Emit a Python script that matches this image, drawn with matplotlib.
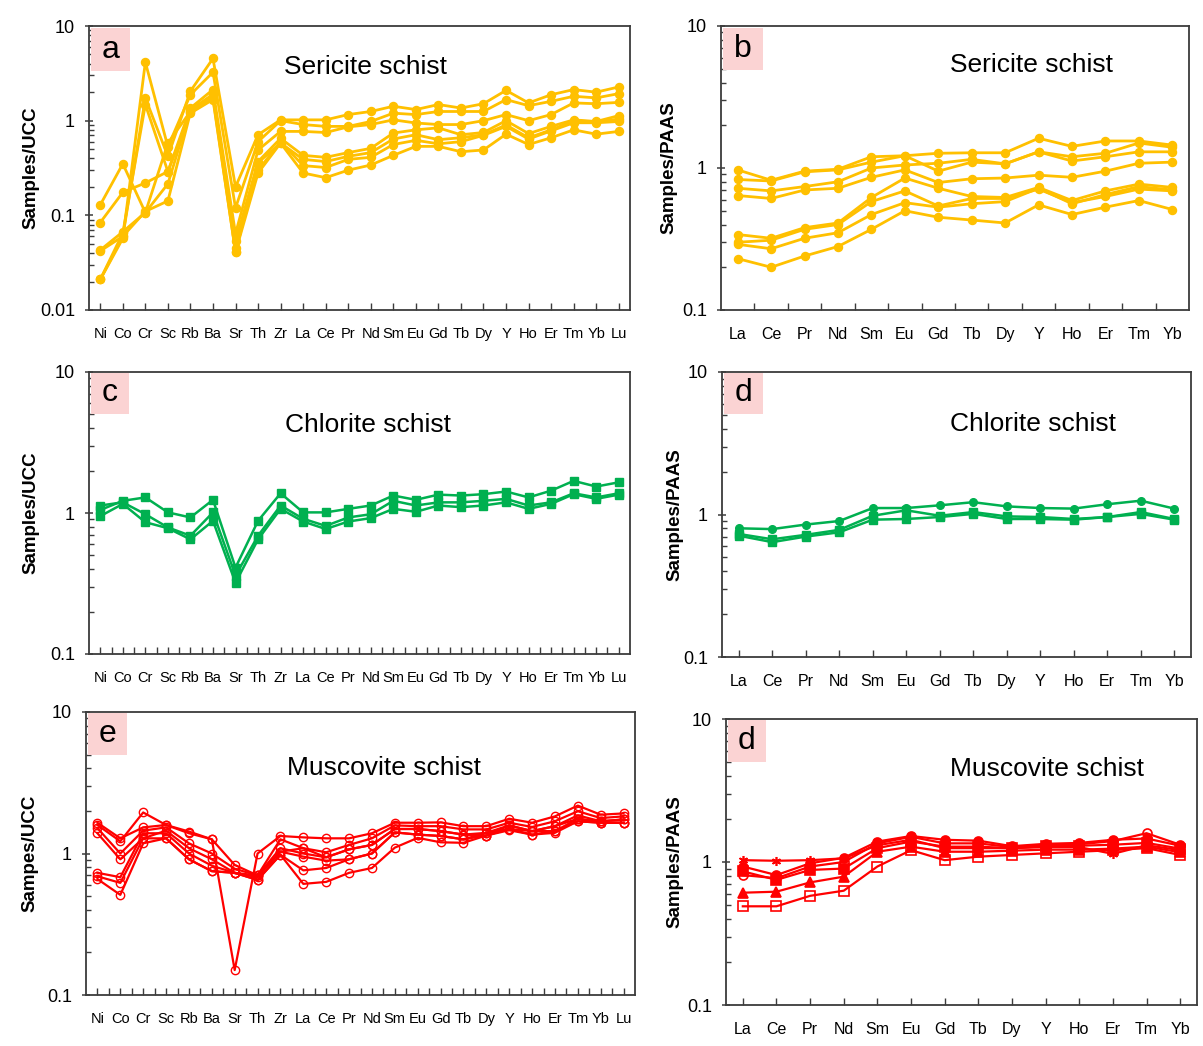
import matplotlib
matplotlib.use("Agg")
import matplotlib.pyplot as plt
from matplotlib import font_manager
from matplotlib.patches import Rectangle
from matplotlib.ticker import FixedLocator, FixedFormatter, LogLocator, NullFormatter

# ---------------- data ----------------
ucc_elements = ["Ni", "Co", "Cr", "Sc", "Rb", "Ba", "Sr", "Th", "Zr", "La", "Ce", "Pr", "Nd",
                "Sm", "Eu", "Gd", "Tb", "Dy", "Y", "Ho", "Er", "Tm", "Yb", "Lu"]
ree_elements = ["La", "Ce", "Pr", "Nd", "Sm", "Eu", "Gd", "Tb", "Dy", "Y", "Ho", "Er", "Tm", "Yb"]

# (a) Sericite schist / UCC
sericite_ucc_1 = [0.042, 0.060, 1.74, 0.42, 2.05, 4.54, 0.20, 0.71, 1.02, 1.02, 1.02, 1.16, 1.25, 1.42, 1.31, 1.48, 1.36, 1.51, 2.09, 1.54, 1.88, 2.13, 2.00, 2.27]
sericite_ucc_2 = [0.021, 0.057, 4.15, 0.53, 1.88, 3.25, 0.12, 0.60, 1.00, 0.91, 0.87, 0.87, 0.98, 1.20, 1.16, 1.25, 1.25, 1.25, 1.67, 1.44, 1.60, 1.81, 1.74, 1.93]
sericite_ucc_3 = [0.021, 0.065, 1.48, 0.29, 1.36, 2.13, 0.064, 0.49, 0.77, 0.77, 0.75, 0.86, 0.91, 1.02, 0.945, 0.91, 0.91, 1.00, 1.16, 1.00, 1.16, 1.54, 1.51, 1.56]
sericite_ucc_4 = [0.129, 0.35, 0.107, 0.58, 1.25, 1.88, 0.053, 0.37, 0.65, 0.43, 0.41, 0.46, 0.51, 0.74, 0.80, 0.84, 0.71, 0.75, 1.00, 0.73, 0.87, 1.02, 0.98, 1.13]
sericite_ucc_5 = [0.084, 0.175, 0.22, 0.29, 1.20, 1.67, 0.041, 0.28, 0.58, 0.39, 0.37, 0.42, 0.46, 0.64, 0.71, 0.63, 0.66, 0.71, 0.90, 0.66, 0.80, 1.00, 0.97, 1.04]
sericite_ucc_6 = [0.043, 0.067, 0.107, 0.215, 1.30, 1.90, 0.045, 0.30, 0.60, 0.335, 0.32, 0.39, 0.41, 0.56, 0.62, 0.57, 0.60, 0.70, 0.87, 0.64, 0.78, 0.95, 0.95, 0.98]
sericite_ucc_7 = [0.021, 0.060, 0.11, 0.142, 1.22, 1.75, 0.041, 0.36, 0.58, 0.28, 0.25, 0.30, 0.34, 0.43, 0.535, 0.535, 0.47, 0.49, 0.72, 0.56, 0.66, 0.80, 0.72, 0.77]

# (b) Sericite schist / PAAS
sericite_paas_1 = [0.97, 0.82, 0.95, 0.98, 1.20, 1.22, 1.27, 1.28, 1.28, 1.62, 1.42, 1.55, 1.55, 1.45]
sericite_paas_2 = [0.83, 0.81, 0.94, 0.97, 1.10, 1.22, 0.95, 1.10, 1.07, 1.30, 1.20, 1.27, 1.50, 1.40]
sericite_paas_3 = [0.72, 0.69, 0.74, 0.80, 1.00, 1.05, 1.08, 1.15, 1.07, 1.30, 1.12, 1.20, 1.30, 1.30]
sericite_paas_4 = [0.64, 0.61, 0.70, 0.72, 0.86, 0.97, 0.79, 0.84, 0.85, 0.89, 0.86, 0.95, 1.08, 1.10]
sericite_paas_5 = [0.34, 0.32, 0.38, 0.41, 0.62, 0.85, 0.72, 0.63, 0.62, 0.73, 0.59, 0.69, 0.77, 0.73]
sericite_paas_6 = [0.30, 0.31, 0.37, 0.40, 0.58, 0.69, 0.54, 0.61, 0.61, 0.71, 0.57, 0.63, 0.71, 0.69]
sericite_paas_7 = [0.29, 0.27, 0.32, 0.35, 0.47, 0.57, 0.53, 0.56, 0.58, 0.72, 0.56, 0.65, 0.74, 0.70]
sericite_paas_8 = [0.23, 0.20, 0.24, 0.28, 0.37, 0.50, 0.45, 0.43, 0.41, 0.55, 0.47, 0.53, 0.59, 0.51]

# (c) Chlorite schist / UCC
chlorite_ucc_1 = [1.05, 1.22, 1.29, 1.01, 0.93, 1.24, 0.41, 0.88, 1.38, 1.01, 1.01, 1.07, 1.13, 1.33, 1.24, 1.35, 1.33, 1.36, 1.42, 1.29, 1.44, 1.69, 1.54, 1.65]
chlorite_ucc_2 = [1.13, 1.19, 0.98, 0.79, 0.69, 1.01, 0.36, 0.69, 1.13, 0.91, 0.81, 0.93, 0.98, 1.22, 1.13, 1.19, 1.19, 1.22, 1.26, 1.13, 1.19, 1.38, 1.29, 1.38]
chlorite_ucc_3 = [0.95, 1.16, 0.86, 0.78, 0.65, 0.88, 0.32, 0.65, 1.07, 0.87, 0.77, 0.87, 0.92, 1.07, 1.02, 1.13, 1.10, 1.13, 1.19, 1.07, 1.16, 1.36, 1.26, 1.35]

# (d) Chlorite schist / PAAS
chlorite_paas_1 = [0.80, 0.79, 0.85, 0.90, 1.11, 1.11, 1.16, 1.22, 1.14, 1.11, 1.10, 1.18, 1.25, 1.10]
chlorite_paas_2 = [0.71, 0.64, 0.70, 0.75, 0.92, 0.93, 0.96, 1.01, 0.93, 0.93, 0.92, 0.96, 1.01, 0.92]
chlorite_paas_3 = [0.73, 0.67, 0.72, 0.78, 0.98, 1.07, 0.98, 1.04, 0.97, 0.96, 0.93, 0.96, 1.04, 0.93]

# (e) Muscovite schist / UCC
muscovite_ucc_1 = [1.65, 1.28, 1.53, 1.59, 1.43, 1.26, 0.15, 1.00, 1.33, 1.30, 1.28, 1.28, 1.39, 1.65, 1.65, 1.66, 1.56, 1.56, 1.76, 1.65, 1.83, 2.18, 1.88, 1.92]
muscovite_ucc_2 = [1.59, 1.22, 1.95, 1.59, 1.39, 1.26, 0.83, 0.70, 1.26, 1.09, 1.02, 1.15, 1.28, 1.58, 1.56, 1.56, 1.48, 1.48, 1.65, 1.54, 1.69, 1.99, 1.78, 1.83]
muscovite_ucc_3 = [1.51, 1.00, 1.45, 1.53, 1.18, 1.00, 0.78, 0.70, 1.09, 1.00, 0.94, 1.07, 1.15, 1.49, 1.49, 1.44, 1.36, 1.40, 1.58, 1.44, 1.56, 1.86, 1.69, 1.74]
muscovite_ucc_4 = [1.39, 0.91, 1.28, 1.45, 1.09, 0.91, 0.73, 0.68, 1.03, 0.95, 0.89, 0.91, 1.00, 1.41, 1.36, 1.33, 1.26, 1.34, 1.49, 1.36, 1.44, 1.76, 1.65, 1.65]
muscovite_ucc_5 = [0.73, 0.68, 1.39, 1.39, 1.00, 0.82, 0.73, 0.65, 0.98, 0.76, 0.79, 0.91, 1.00, 1.41, 1.36, 1.33, 1.26, 1.40, 1.49, 1.44, 1.44, 1.69, 1.65, 1.65]
muscovite_ucc_6 = [0.69, 0.62, 1.28, 1.28, 0.91, 0.75, 0.73, 0.70, 1.03, 1.09, 0.94, 1.07, 1.15, 1.49, 1.49, 1.44, 1.36, 1.34, 1.58, 1.44, 1.56, 1.76, 1.69, 1.74]
muscovite_ucc_7 = [0.66, 0.51, 1.18, 1.28, 0.91, 0.75, 0.73, 0.65, 0.98, 0.61, 0.63, 0.73, 0.79, 1.10, 1.29, 1.20, 1.19, 1.34, 1.46, 1.36, 1.40, 1.69, 1.65, 1.65]

# (f) Muscovite schist / PAAS
muscovite_paas_star = [1.03, 1.02, 1.03, 1.06, 1.31, 1.43, 1.25, 1.25, 1.25, 1.27, 1.27, 1.14, 1.31, 1.21]
muscovite_paas_circle = [0.93, 0.81, 0.98, 1.07, 1.39, 1.52, 1.43, 1.41, 1.29, 1.34, 1.36, 1.43, 1.46, 1.30]
muscovite_paas_square = [0.86, 0.75, 0.88, 0.90, 1.25, 1.39, 1.28, 1.28, 1.25, 1.29, 1.30, 1.32, 1.36, 1.24]
muscovite_paas_ocircle = [0.81, 0.77, 0.93, 1.00, 1.35, 1.50, 1.35, 1.35, 1.27, 1.31, 1.33, 1.40, 1.59, 1.32]
muscovite_paas_triangle = [0.61, 0.62, 0.72, 0.79, 1.18, 1.28, 1.18, 1.18, 1.20, 1.22, 1.22, 1.24, 1.28, 1.17]
muscovite_paas_osquare = [0.49, 0.49, 0.58, 0.63, 0.93, 1.21, 1.03, 1.09, 1.12, 1.15, 1.18, 1.21, 1.25, 1.12]

# ---------------- style ----------------
names = {f.name for f in font_manager.fontManager.ttflist}
SANS = "Liberation Sans" if "Liberation Sans" in names else "DejaVu Sans"
plt.rcParams["font.family"] = [SANS, "DejaVu Sans"]

YELLOW = "#FFC000"
GREEN = "#00B050"
RED = "#FF0000"
PINK = "#FBD3D3"
SPINE = "#3C3C3C"

W, H = 1203, 1046
fig = plt.figure(figsize=(W / 100, H / 100), dpi=100)


def fx(x):
    return x / W


def fy(y):
    return 1 - y / H


def make_axes(l, t, r, b, ymin, ncat, labels, xfs, tickmode, ylabel, ylab_x):
    ax = fig.add_axes([fx(l), fy(b), (r - l) / W, (b - t) / H])
    ax.set_yscale("log")
    ax.set_ylim(ymin, 10)
    ax.set_xlim(-0.5, ncat - 0.5)
    majors = [v for v in [0.01, 0.1, 1, 10] if v >= ymin]
    ax.yaxis.set_major_locator(FixedLocator(majors))
    ax.yaxis.set_major_formatter(FixedFormatter([("%g" % v) for v in majors]))
    ax.yaxis.set_minor_locator(LogLocator(base=10, subs=[2, 3, 4, 5, 6, 7, 8, 9]))
    ax.yaxis.set_minor_formatter(NullFormatter())
    ax.tick_params(axis="y", which="major", direction="inout", length=6, width=1.1,
                   color=SPINE, labelsize=13, pad=7)
    ax.tick_params(axis="y", which="minor", direction="in", length=3.5, width=1.0, color=SPINE)
    cats = list(range(ncat))
    if tickmode == "between":
        ax.xaxis.set_major_locator(FixedLocator([c + 0.5 for c in cats[:-1]]))
        ax.xaxis.set_major_formatter(NullFormatter())
        ax.xaxis.set_minor_locator(FixedLocator(cats))
        ax.xaxis.set_minor_formatter(FixedFormatter(labels))
        ax.tick_params(axis="x", which="major", direction="in", length=5, width=1.0, color=SPINE)
        ax.tick_params(axis="x", which="minor", length=0, labelsize=xfs, pad=12)
    else:
        ax.xaxis.set_major_locator(FixedLocator(cats))
        ax.xaxis.set_major_formatter(FixedFormatter(labels))
        ax.tick_params(axis="x", which="major", direction="in", length=5, width=1.0,
                       color=SPINE, labelsize=xfs, pad=12)
        if tickmode == "half":
            ax.xaxis.set_minor_locator(FixedLocator([c + 0.5 for c in cats[:-1]]))
            ax.tick_params(axis="x", which="minor", direction="in", length=5, width=1.0, color=SPINE)
        else:
            ax.xaxis.set_minor_locator(FixedLocator([]))
    for s in ax.spines.values():
        s.set_color(SPINE)
        s.set_linewidth(1.3)
    fig.text(fx(ylab_x), fy((t + b) / 2), ylabel, rotation=90, ha="center", va="center",
             fontsize=13.5, fontweight="bold")
    return ax


def decorate(letter, box, title, tx, ty):
    x0, y0, x1, y1 = box
    fig.patches.append(Rectangle((fx(x0), fy(y1)), (x1 - x0) / W, (y1 - y0) / H,
                                 transform=fig.transFigure, facecolor=PINK, edgecolor="none",
                                 zorder=5))
    fig.text(fx((x0 + x1) / 2), fy(y1 - 13), letter, ha="center", va="baseline",
             fontsize=23, zorder=6)
    fig.text(fx(tx), fy(ty), title, ha="center", va="baseline", fontsize=19)


# (a)
ax_a = make_axes(89, 26, 630, 310, 0.01, 24, ucc_elements, 10.5, "cat", "Samples/UCC", 31)
for s in [sericite_ucc_1, sericite_ucc_2, sericite_ucc_3, sericite_ucc_4,
          sericite_ucc_5, sericite_ucc_6, sericite_ucc_7]:
    ax_a.plot(range(24), s, color=YELLOW, lw=2.0, marker="o", ms=5.8, mec=YELLOW, mfc=YELLOW)
decorate("a", (90.5, 27.5, 130, 71), "Sericite schist", 366, 74)

# (b)
ax_b = make_axes(721, 26, 1189, 310, 0.1, 14, ree_elements, 11.5, "between", "Samples/PAAS", 669)
for s in [sericite_paas_1, sericite_paas_2, sericite_paas_3, sericite_paas_4,
          sericite_paas_5, sericite_paas_6, sericite_paas_7, sericite_paas_8]:
    ax_b.plot(range(14), s, color=YELLOW, lw=2.0, marker="o", ms=5.8, mec=YELLOW, mfc=YELLOW)
decorate("b", (722.5, 27.5, 763, 70), "Sericite schist", 1031, 72)

# (c)
ax_c = make_axes(89, 372, 630, 654, 0.1, 24, ucc_elements, 10.5, "half", "Samples/UCC", 31)
for s in [chlorite_ucc_1, chlorite_ucc_2, chlorite_ucc_3]:
    ax_c.plot(range(24), s, color=GREEN, lw=1.8, marker="s", ms=5.5, mec=GREEN, mfc=GREEN)
decorate("c", (90.5, 373, 129, 414), "Chlorite schist", 368, 432)

# (d)
ax_d = make_axes(722, 372, 1191, 657, 0.1, 14, ree_elements, 11.5, "cat", "Samples/PAAS", 675)
for s, m in [(chlorite_paas_1, "o"), (chlorite_paas_2, "s"), (chlorite_paas_3, "s")]:
    ax_d.plot(range(14), s, color=GREEN, lw=1.8, marker=m, ms=5.5, mec=GREEN, mfc=GREEN)
decorate("d", (723.5, 373, 763, 414), "Chlorite schist", 1033, 431)

# (e)
ax_e = make_axes(86, 712, 635, 995, 0.1, 24, ucc_elements, 10.5, "half", "Sampes/UCC", 30)
for s in [muscovite_ucc_1, muscovite_ucc_2, muscovite_ucc_3, muscovite_ucc_4,
          muscovite_ucc_5, muscovite_ucc_6, muscovite_ucc_7]:
    ax_e.plot(range(24), s, color=RED, lw=1.6, marker="o", ms=6.0, mec=RED, mfc="none", mew=1.0)
decorate("e", (87.5, 713, 127, 755), "Muscovite schist", 384, 775)

# (f)
ax_f = make_axes(726, 719, 1197, 1005, 0.1, 14, ree_elements, 11.5, "cat", "Samples/PAAS", 675)
f_series = [(muscovite_paas_star, (6, 2, 0), RED),
            (muscovite_paas_circle, "o", RED),
            (muscovite_paas_square, "s", RED),
            (muscovite_paas_ocircle, "o", "none"),
            (muscovite_paas_triangle, "^", RED),
            (muscovite_paas_osquare, "s", "none")]
for s, m, fc in f_series:
    ax_f.plot(range(14), s, color=RED, lw=1.6, marker=m, ms=6.5, mec=RED, mfc=fc, mew=1.2)
decorate("d", (727.5, 720, 766, 762), "Muscovite schist", 1047, 776)

fig.savefig("out.png", dpi=100, facecolor="white")
